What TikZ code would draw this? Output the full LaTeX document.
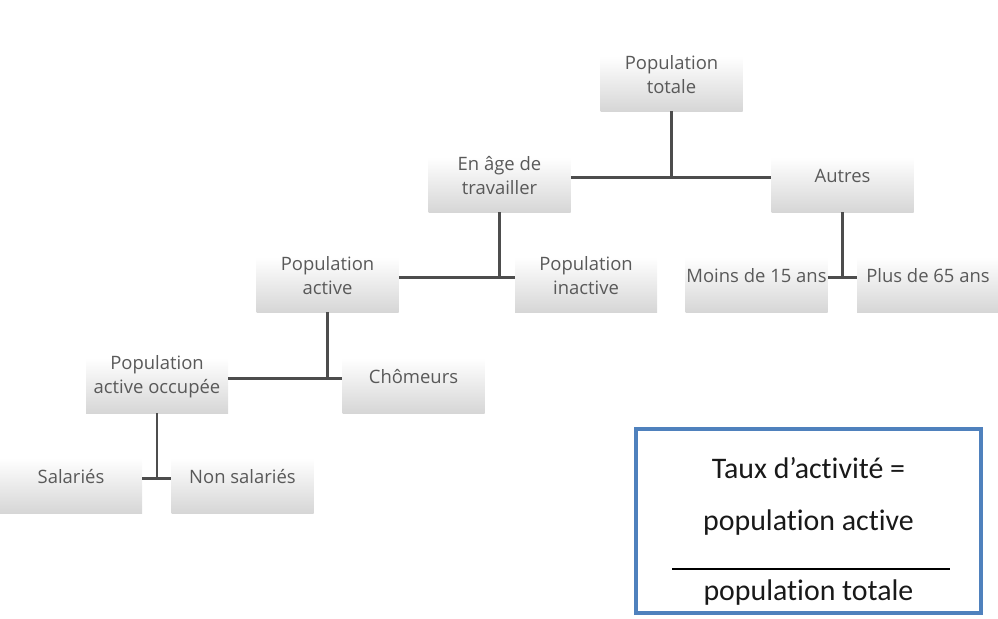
\documentclass[tikz,border=0pt]{standalone}
\usepackage{fontspec}
\setmainfont{Open Sans}
\newfontfamily\calibri{Carlito}[RawFeature={-liga;-clig;-calt;-rlig}]
\usetikzlibrary{positioning}
\definecolor{txtgray}{HTML}{595959}
\definecolor{linegray}{HTML}{4D4D4D}
\definecolor{boxblue}{HTML}{4F81BD}

\begin{document}
\begin{tikzpicture}[
  boite/.style={rectangle,minimum width=2.84cm,minimum height=1.1cm,inner sep=0pt,
    top color=white,bottom color=black!16},
  etiq/.style={font=\fontsize{10.5}{13.6}\selectfont,text=txtgray,align=center,inner sep=0pt},
  lien/.style={draw=linegray,line width=1.4pt},
  formule/.style={font=\calibri\fontsize{17}{20}\selectfont,text=black!90,inner sep=0pt}
]
  \useasboundingbox (0,0) rectangle (19.96,-12.38);

  % ---- Boxes -----------------------------------------------
  \node[boite] (tot)    at (13.43,-1.67) {};
  \node[boite] (enage)  at (9.99,-3.69)  {};
  \node[boite] (autres) at (16.85,-3.69) {};
  \node[boite] (pact)   at (6.55,-5.69)  {};
  \node[boite] (pinact) at (11.72,-5.69) {};
  \node[boite] (moins)  at (15.13,-5.69) {};
  \node[boite] (plus)   at (18.56,-5.69) {};
  \node[boite] (poccup) at (3.14,-7.71)  {};
  \node[boite] (chom)   at (8.27,-7.71)  {};
  \node[boite] (sal)    at (1.42,-9.71)  {};
  \node[boite] (nonsal) at (4.85,-9.71)  {};

  % ---- Labels (a bit above the middle of each box) ----------
  \node[etiq] (tot-t)    at ([yshift=0.18cm]tot.center)    {Population\\totale};
  \node[etiq] (enage-t)  at ([yshift=0.18cm]enage.center)  {En âge de\\travailler};
  \node[etiq] (autres-t) at ([yshift=0.17cm]autres.center) {Autres};
  \node[etiq] (pact-t)   at ([yshift=0.18cm]pact.center)   {Population\\active};
  \node[etiq] (pinact-t) at ([yshift=0.18cm]pinact.center) {Population\\inactive};
  \node[etiq] (moins-t)  at ([yshift=0.17cm]moins.center)  {Moins de 15 ans};
  \node[etiq] (plus-t)   at ([yshift=0.17cm]plus.center)   {Plus de 65 ans};
  \node[etiq] (poccup-t) at ([yshift=0.18cm]poccup.center) {Population\\active occupée};
  \node[etiq] (chom-t)   at ([yshift=0.17cm]chom.center)   {Chômeurs};
  \node[etiq] (sal-t)    at ([yshift=0.17cm]sal.center)    {Salariés};
  \node[etiq] (nonsal-t) at ([yshift=0.17cm]nonsal.center) {Non salariés};

  % ---- Connectors ------------------------------------------
  % Population totale
  \coordinate (j1) at ([yshift=0.14cm]autres.west);
  \draw[lien] ([yshift=0.14cm]enage.east) -- (j1);
  \draw[lien] (tot.south) -- (tot.south |- j1);
  % En age de travailler
  \coordinate (j2) at ([yshift=0.14cm]pinact.west);
  \draw[lien] ([yshift=0.14cm]pact.east) -- (j2);
  \draw[lien] (enage.south) -- (enage.south |- j2);
  % Autres
  \coordinate (j3) at ([yshift=0.14cm]plus.west);
  \draw[lien] ([yshift=0.14cm]moins.east) -- (j3);
  \draw[lien] (autres.south) -- (autres.south |- j3);
  % Population active
  \coordinate (j4) at ([yshift=0.14cm]chom.west);
  \draw[lien] ([yshift=0.14cm]poccup.east) -- (j4);
  \draw[lien] (pact.south) -- (pact.south |- j4);
  % Population active occupee
  \coordinate (j5) at ([yshift=0.14cm]nonsal.west);
  \draw[lien] ([yshift=0.14cm]sal.east) -- (j5);
  \draw[lien] (poccup.south) -- (poccup.south |- j5);

  % ---- Formula box -----------------------------------------
  \draw[boxblue,line width=1.8pt] (12.72,-8.58) rectangle (19.62,-12.26);
  \node[formule] (taux)  at (16.17,-9.36)  {Taux d’activité =};
  \node[formule] (num)   at (16.17,-10.46) {population active};
  \draw[black,line width=1pt] (13.44,-11.38) -- (19.0,-11.38);
  \node[formule] (denom) at (16.17,-11.86) {population totale};

\end{tikzpicture}
\end{document}
